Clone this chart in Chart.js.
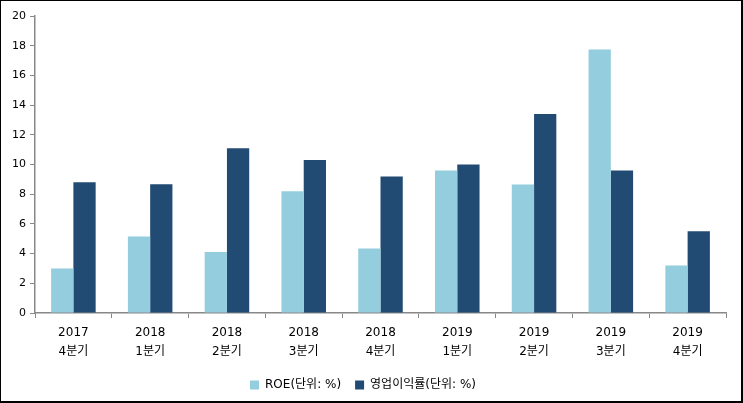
<!DOCTYPE html>
<html><head><meta charset="utf-8">
<script src="https://cdn.jsdelivr.net/npm/chart.js@4/dist/chart.umd.min.js"></script>
<style>
html,body{margin:0;padding:0;background:#fff;}
#wrap{position:relative;width:743px;height:403px;}
#frame{position:absolute;left:0;top:0;width:743px;height:403px;box-sizing:border-box;border-style:solid;border-color:#000;border-width:1px 2px 2px 1px;pointer-events:none;}
canvas{display:block;}
</style></head>
<body>
<div id="wrap"><canvas id="c" width="743" height="403"></canvas><div id="frame"></div></div>
<script>
const categories = [["2017","4분기"],["2018","1분기"],["2018","2분기"],["2018","3분기"],["2018","4분기"],["2019","1분기"],["2019","2분기"],["2019","3분기"],["2019","4분기"]];
const roe = [3.0, 5.15, 4.1, 8.2, 4.35, 9.6, 8.65, 17.75, 3.2];
const opMargin = [8.8, 8.67, 11.1, 10.3, 9.2, 10.0, 13.4, 9.6, 5.5];
const seriesNames = ["ROE(단위: %)", "영업이익률(단위: %)"];
const yTicks = [0,2,4,6,8,10,12,14,16,18,20];

const FONT = "'DejaVu Sans','Noto Sans CJK KR',sans-serif";
Chart.defaults.font.family = FONT;
Chart.defaults.color = '#000';

new Chart(document.getElementById('c'), {
  type: 'bar',
  data: {
    labels: categories,
    datasets: [
      {label: seriesNames[0], data: roe, backgroundColor: '#94CDDD', categoryPercentage: 0.58, barPercentage: 1.0},
      {label: seriesNames[1], data: opMargin, backgroundColor: '#214B72', categoryPercentage: 0.58, barPercentage: 1.0}
    ]
  },
  options: {
    responsive: false,
    animation: false,
    layout: {padding: {top: 16, right: 17, left: 0, bottom: 2}},
    plugins: {
      tooltip: {enabled: false},
      legend: {
        position: 'bottom',
        labels: {boxWidth: 9, boxHeight: 9, font: {size: 12}, padding: 14},
        afterFit: undefined
      }
    },
    scales: {
      x: {
        grid: {display: true, drawOnChartArea: false, offset: true, color: '#888', tickLength: 5},
        border: {color: '#888', width: 1.5},
        ticks: {font: {size: 12, lineHeight: 1.6}, maxRotation: 0, autoSkip: false, padding: 5},
        afterFit: s => { s.height = 52; }
      },
      y: {
        min: 0, max: 20,
        afterBuildTicks: s => { s.ticks = yTicks.map(v => ({value: v})); },
        grid: {display: true, drawOnChartArea: false, color: '#888', tickLength: 5},
        border: {color: '#888', width: 1.5},
        ticks: {font: {size: 11}, padding: 4},
        afterFit: s => { s.width = 35; }
      }
    }
  }
});
</script>
</body></html>
